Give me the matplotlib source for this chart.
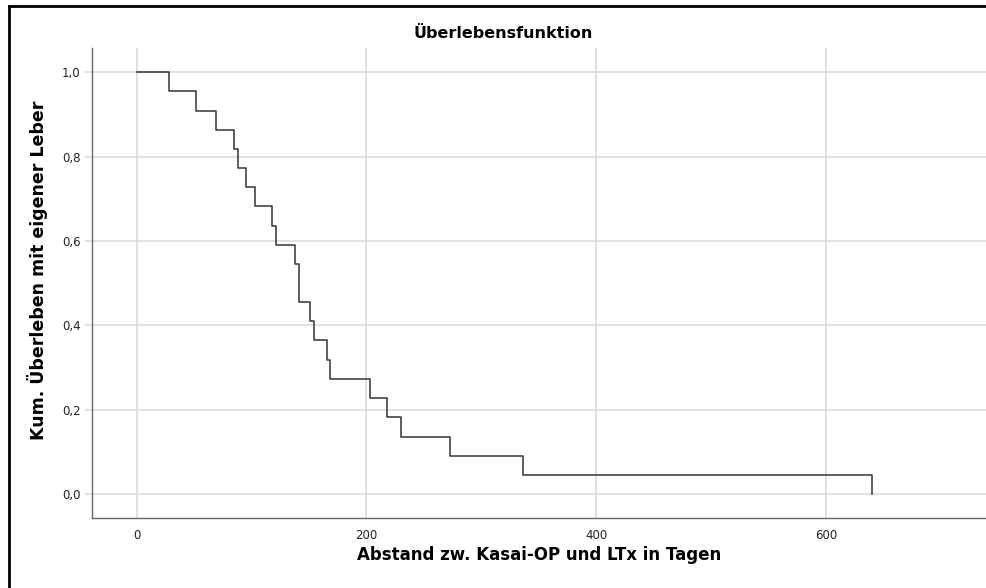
import matplotlib
matplotlib.use('Agg')
import matplotlib.pyplot as plt
from matplotlib.lines import Line2D
from matplotlib.ticker import FuncFormatter

# data
tage = [0, 28, 52, 69, 85, 88, 95, 103, 118, 121, 138, 141, 151, 154,
        166, 168, 203, 218, 230, 273, 336, 640]
ueberleben = [1.0, 0.955, 0.909, 0.864, 0.818, 0.773, 0.727, 0.682, 0.636,
              0.591, 0.545, 0.455, 0.409, 0.364, 0.318, 0.273, 0.227, 0.182,
              0.136, 0.091, 0.045, 0.0]
x_ticks = [0, 200, 400, 600]
y_ticks = [0.0, 0.2, 0.4, 0.6, 0.8, 1.0]

fig = plt.figure(figsize=(9.86, 5.88), dpi=100)
ax = fig.add_axes([0.093, 0.119, 0.907, 0.799])

ax.step(tage, ueberleben, where='post', color='#333333', lw=1.1, zorder=3)

ax.set_xlim(-39, 739)
ax.set_ylim(-0.057, 1.057)
ax.set_xticks(x_ticks)
ax.set_yticks(y_ticks)
ax.yaxis.set_major_formatter(FuncFormatter(lambda v, p: f'{v:.1f}'.replace('.', ',')))
ax.grid(True, color='#d9d9d9', lw=1.1, zorder=0)
ax.tick_params(axis='x', length=0, pad=8, labelsize=8.5, labelcolor='#222222')
ax.tick_params(axis='y', length=5, color='#d9d9d9', width=1.1, pad=3,
               labelsize=8.5, labelcolor='#222222')

for s in ['top', 'right']:
    ax.spines[s].set_visible(False)
for s in ['left', 'bottom']:
    ax.spines[s].set_color('#666666')
    ax.spines[s].set_linewidth(1.0)

fig.text(503 / 986, 1 - 33 / 588, 'Überlebensfunktion', ha='center', va='center',
         fontsize=11.5, fontweight='bold')
fig.text(539 / 986, 1 - 555 / 588, 'Abstand zw. Kasai-OP und LTx in Tagen',
         ha='center', va='center', fontsize=12, fontweight='bold')
fig.text(38 / 986, 1 - 270 / 588, 'Kum. Überleben mit eigener Leber',
         ha='center', va='center', rotation=90, fontsize=12.5, fontweight='bold')

# outer frame (top and left)
fig.add_artist(Line2D([9 / 986, 9 / 986], [0, 1 - 6 / 588], color='black', lw=2,
                      transform=fig.transFigure))
fig.add_artist(Line2D([9 / 986, 1], [1 - 6 / 588, 1 - 6 / 588], color='black', lw=2,
                      transform=fig.transFigure))

plt.savefig('out.png', dpi=100)
